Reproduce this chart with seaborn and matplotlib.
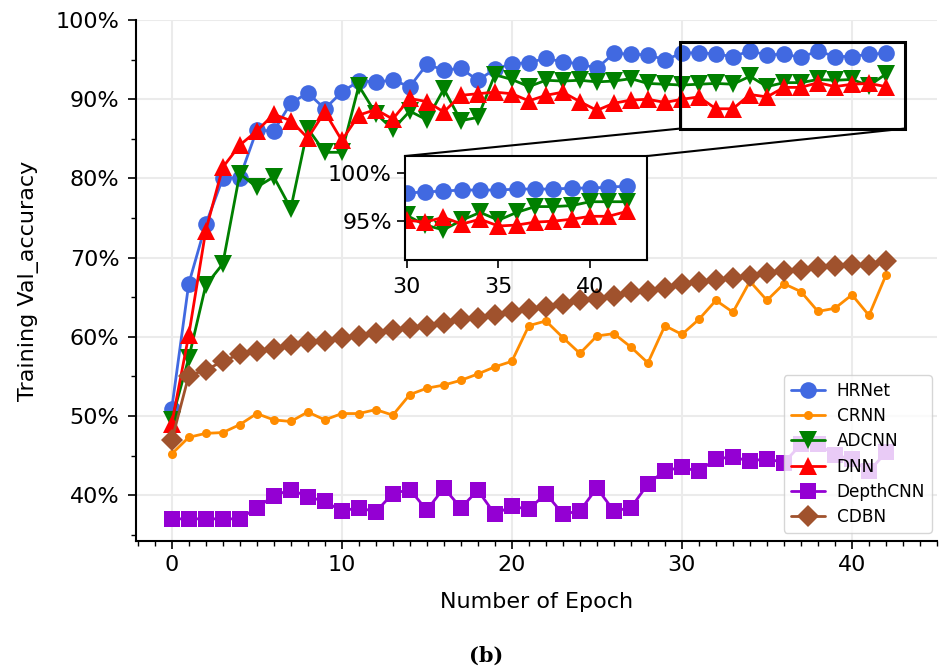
import numpy as np
import pandas as pd
import matplotlib
matplotlib.use("Agg")
import matplotlib.pyplot as plt
import seaborn as sns
from matplotlib.patches import Rectangle, ConnectionPatch
from matplotlib.ticker import MultipleLocator, FuncFormatter

epochs = list(range(43))

hrnet = [50.9, 66.7, 74.2, 80.0, 80.1, 86.1, 86.0, 89.5, 90.8, 88.8, 90.9, 92.3, 92.2, 92.4,
         91.6, 94.4, 93.7, 93.9, 92.4, 93.8, 94.5, 94.6, 95.2, 94.7, 94.5, 93.9, 95.8, 95.7,
         95.6, 95.0, 95.8, 95.9, 95.7, 95.4, 96.1, 95.6, 95.7, 95.3, 96.1, 95.4, 95.4, 95.7, 95.8]
crnn = [45.2, 47.3, 47.8, 47.9, 48.9, 50.3, 49.5, 49.3, 50.5, 49.5, 50.3, 50.3, 50.8, 50.1,
        52.7, 53.5, 53.9, 54.5, 55.3, 56.2, 56.9, 61.4, 62.0, 59.9, 57.9, 60.1, 60.4, 58.7,
        56.7, 61.4, 60.3, 62.2, 64.6, 63.1, 67.0, 64.6, 66.7, 65.7, 63.2, 63.6, 65.3, 62.7, 67.8]
adcnn = [49.5, 57.3, 66.5, 69.2, 80.6, 78.9, 80.2, 76.2, 86.3, 83.3, 83.3, 91.7, 88.2, 86.2,
         88.5, 87.4, 91.3, 87.3, 87.7, 93.1, 92.5, 91.6, 92.4, 92.3, 92.4, 92.2, 92.3, 92.6,
         92.0, 91.9, 91.8, 91.9, 92.0, 91.9, 92.9, 91.6, 92.1, 92.1, 92.5, 92.4, 92.5, 91.7, 93.2]
dnn = [49.0, 60.2, 73.4, 81.4, 84.2, 86.0, 88.1, 87.3, 85.1, 88.4, 84.8, 88.0, 88.7, 87.5,
       90.1, 89.7, 88.4, 90.5, 90.7, 90.9, 90.7, 89.8, 90.5, 90.9, 89.7, 88.6, 89.5, 89.9,
       90.0, 89.6, 90.0, 90.3, 88.8, 88.8, 90.6, 90.3, 91.5, 91.5, 92.1, 91.6, 91.9, 92.0, 91.6]
depthcnn = [37.0, 37.0, 37.0, 37.0, 37.0, 38.4, 39.9, 40.7, 39.8, 39.2, 38.0, 38.4, 37.9, 40.2,
            40.7, 38.1, 40.9, 38.4, 40.6, 37.6, 38.6, 38.2, 40.2, 37.6, 38.0, 40.9, 38.0, 38.4,
            41.4, 43.1, 43.5, 43.0, 44.6, 44.8, 44.3, 44.6, 44.1, 46.4, 46.4, 45.1, 44.5, 43.0, 45.4]
cdbn = [46.9, 55.1, 55.8, 56.9, 57.8, 58.2, 58.5, 59.0, 59.3, 59.5, 59.8, 60.1, 60.5, 60.8,
        61.1, 61.4, 61.8, 62.2, 62.4, 62.8, 63.1, 63.5, 63.7, 64.1, 64.6, 64.8, 65.2, 65.6,
        65.8, 66.2, 66.7, 66.9, 67.2, 67.4, 67.7, 68.0, 68.3, 68.4, 68.8, 68.9, 69.1, 69.1, 69.6]

# inset (zoomed view) values as drawn in the reference
inset_epochs = list(range(30, 43))
hrnet_inset = [97.9, 98.0, 98.1, 98.2, 98.2, 98.2, 98.3, 98.3, 98.3, 98.4, 98.4, 98.5, 98.6]
adcnn_inset = [95.6, 94.6, 94.1, 95.1, 95.9, 95.1, 95.9, 96.5, 96.5, 96.6, 97.0, 97.0, 97.0]
dnn_inset = [95.1, 94.9, 95.4, 94.7, 95.2, 94.5, 94.6, 94.9, 95.0, 95.2, 95.5, 95.5, 96.0]

series_names = ["HRNet", "CRNN", "ADCNN", "DNN", "DepthCNN", "CDBN"]
series_vals = [hrnet, crnn, adcnn, dnn, depthcnn, cdbn]
colors = ["#4169E1", "#FF8C00", "#008000", "#FF0000", "#9400D3", "#A0522D"]
markers = ["o", "o", "v", "^", "s", "D"]
msizes = [12, 6.5, 12.5, 12.5, 11, 11]

sns.set_style("whitegrid", {"grid.color": "#ebebeb", "axes.edgecolor": "black"})
plt.rcParams["font.family"] = ["DejaVu Sans"]
plt.rcParams.update({"text.color": "black", "axes.labelcolor": "black",
                     "xtick.color": "black", "ytick.color": "black"})

fig = plt.figure(figsize=(9.42, 6.70), dpi=100)
ax = fig.add_axes([0.1444, 0.1925, 0.8503, 0.7775])

for name, vals, c, m, ms in zip(series_names, series_vals, colors, markers, msizes):
    sns.lineplot(x=epochs, y=vals, ax=ax, color=c, marker=m, markersize=ms,
                 markeredgecolor=c, markeredgewidth=0, linewidth=2, label=name)

ax.set_xlim(-2.1, 45)
ax.set_ylim(34.2, 100)
ax.xaxis.set_major_locator(MultipleLocator(10))
ax.xaxis.set_minor_locator(MultipleLocator(1))
ax.yaxis.set_major_locator(MultipleLocator(10))
ax.yaxis.set_minor_locator(MultipleLocator(5))
ax.yaxis.set_major_formatter(FuncFormatter(lambda v, p: f"{v:.0f}%"))
ax.grid(True, which="major", color="#ebebeb", linewidth=1.5)
ax.grid(False, which="minor")
ax.tick_params(which="major", direction="out", length=6, width=1.2, labelsize=16,
               bottom=True, left=True, color="black", labelcolor="black")
ax.tick_params(axis="x", which="major", pad=4)
ax.tick_params(axis="y", which="major", pad=6)
ax.tick_params(which="minor", direction="out", length=3.5, width=1.0,
               bottom=True, left=True, color="black")
sns.despine(ax=ax)
for s in ["left", "bottom"]:
    ax.spines[s].set_linewidth(1.5)
    ax.spines[s].set_color("black")
ax.set_xlabel("Number of Epoch", fontsize=16, labelpad=12, color="black")
ax.set_ylabel("Training Val_accuracy", fontsize=16, labelpad=12, color="black")

leg = ax.legend(loc="lower right", bbox_to_anchor=(1.004, 0.0), fontsize=12.2,
                frameon=True, framealpha=0.8, edgecolor="#cccccc", borderpad=0.4,
                labelspacing=0.42, handletextpad=0.7)

# zoom rectangle on main axes
rect = Rectangle((29.9, 86.3), 13.2, 10.9, fill=False, edgecolor="black",
                 linewidth=2.2, zorder=5)
ax.add_patch(rect)

# inset axes
axin = fig.add_axes([0.4299, 0.6119, 0.2569, 0.1552])
for vals, c, m, ms in zip([hrnet_inset, adcnn_inset, dnn_inset],
                          [colors[0], colors[2], colors[3]],
                          ["o", "v", "^"], [12, 12.5, 12.5]):
    sns.lineplot(x=inset_epochs, y=vals, ax=axin, color=c, marker=m, markersize=ms,
                 markeredgecolor=c, markeredgewidth=0, linewidth=2, legend=False)
axin.set_xlim(29.9, 43.1)
axin.set_ylim(91, 101.7)
axin.set_xticks([30, 35, 40])
axin.set_yticks([95, 100])
axin.yaxis.set_major_formatter(FuncFormatter(lambda v, p: f"{v:.0f}%"))
axin.grid(False)
axin.set_facecolor("white")
axin.tick_params(direction="out", length=6, width=1.2, labelsize=16,
                 bottom=True, left=True, color="black", labelcolor="black")
axin.tick_params(axis="x", pad=6)
for s in axin.spines.values():
    s.set_visible(True)
    s.set_color("black")
    s.set_linewidth(1.5)

# connector lines
for (xa, ya), (xb, yb) in [((0, 1), (29.9, 86.3)), ((1, 1), (43.1, 86.3))]:
    con = ConnectionPatch(xyA=(xa, ya), coordsA=axin.transAxes,
                          xyB=(xb, yb), coordsB=ax.transData,
                          color="black", linewidth=1.5)
    fig.add_artist(con)

fig.text(0.516, 0.006, "(b)", ha="center", va="bottom", fontsize=15,
         fontweight="bold", family=["DejaVu Serif"], color="black")

fig.savefig("out.png", dpi=100)
